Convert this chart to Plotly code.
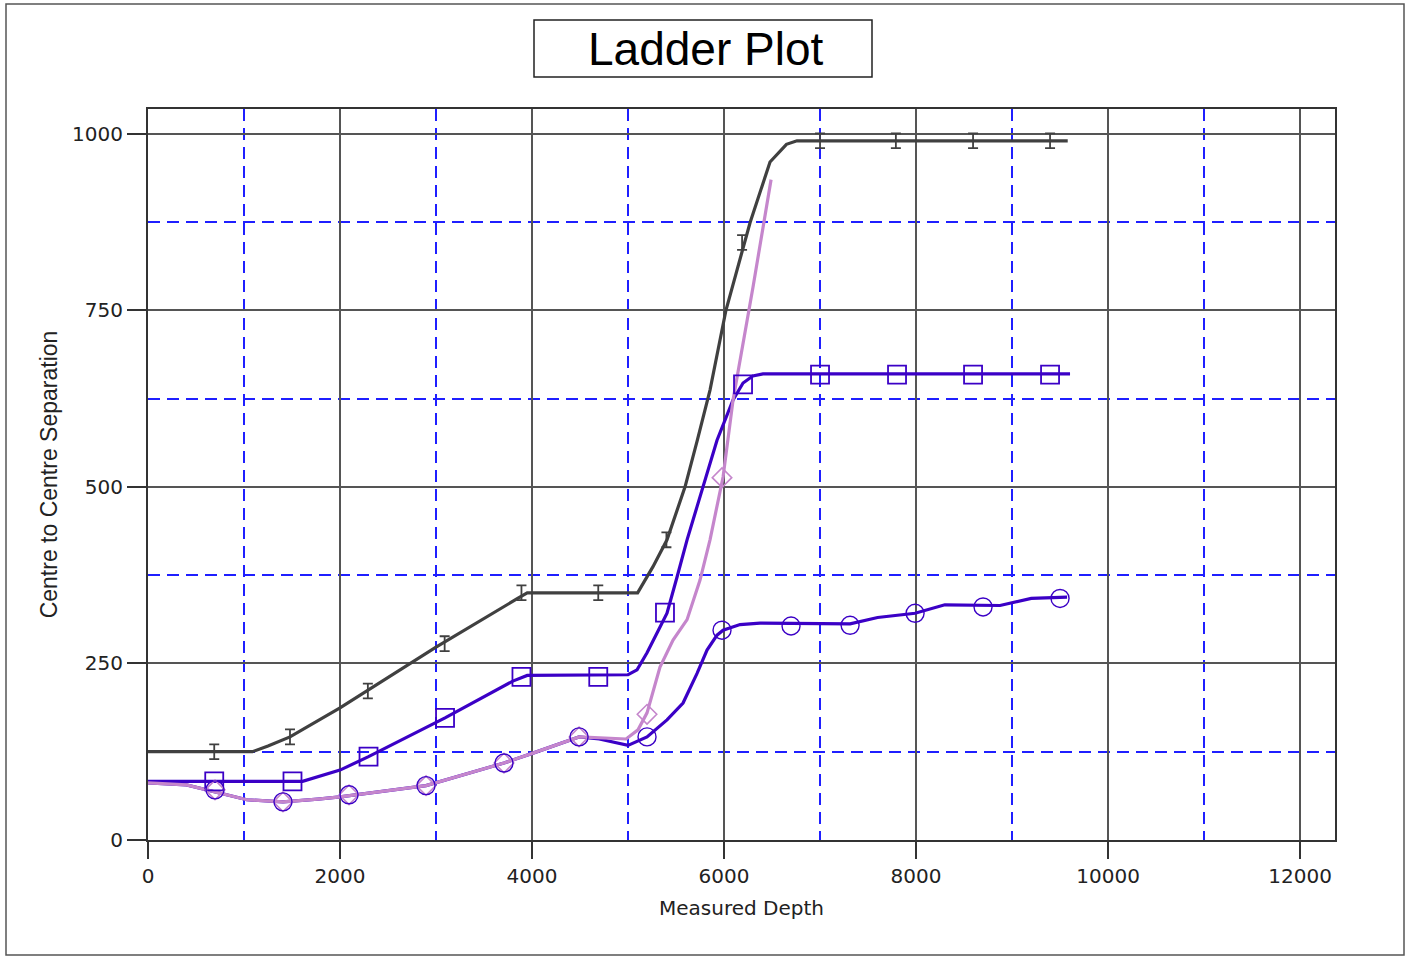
import plotly.graph_objects as go

# ---------------- data ----------------
# Grey series (I-beam markers)
grey_curve_x = [0, 1088, 1250, 1479, 2000, 3000, 3850, 3950, 5100, 5260, 5406, 5594, 5720, 5854, 6020, 6271, 6479, 6650, 6760, 9580]
grey_curve_y = [125, 125, 133, 146, 187, 273, 342, 350, 350, 387, 425, 500, 565, 637, 750, 874, 960, 985, 990, 990]
grey_mark_x = [690, 1479, 2290, 3090, 3890, 4690, 5400, 6188, 7000, 7790, 8594, 9396]
grey_mark_y = [125, 146, 211, 278, 350, 350, 425, 846, 990, 990, 990, 990]

# Blue series with square markers
sq_curve_x = [0, 1610, 2000, 2297, 3094, 3800, 3950, 5000, 5094, 5198, 5302, 5406, 5510, 5615, 5719, 5823, 5927, 6094, 6198, 6300, 6406, 9604]
sq_curve_y = [83, 83, 99, 118, 173, 225, 233, 234, 241, 265, 293, 321, 372, 425, 472, 519, 566, 623, 647, 657, 660, 660]
sq_mark_x = [690, 1505, 2297, 3094, 3890, 4690, 5385, 6198, 7000, 7802, 8594, 9396]
sq_mark_y = [83, 83, 118, 173, 231, 231, 322, 645, 659, 659, 659, 659]

# Blue series with circle markers
ci_curve_x = [0, 400, 1030, 1406, 1770, 2000, 2896, 3708, 4010, 4490, 4700, 4917, 5000, 5198, 5406, 5573, 5719, 5823, 5927, 5990, 6167, 6375, 7313, 7600, 7990, 8300, 8875, 9200, 9573]
ci_curve_y = [81, 78, 57, 54, 58, 61, 77, 109, 123, 146, 143, 137, 134, 146, 170, 194, 236, 269, 290, 297, 305, 307, 306, 315, 321, 333, 332, 342, 344]
ci_mark_x = [698, 1406, 2094, 2896, 3708, 4490, 5198, 5979, 6698, 7313, 7990, 8698, 9500]
ci_mark_y = [71, 54, 64, 77, 109, 146, 146, 297, 303, 304, 321, 330, 342]

# Lavender series with diamond markers
lv_curve_x = [0, 400, 1030, 1406, 1770, 2000, 2896, 3708, 4010, 4490, 4980, 5104, 5198, 5333, 5469, 5615, 5750, 5854, 5990, 6094, 6302, 6490]
lv_curve_y = [81, 78, 57, 54, 58, 61, 77, 109, 123, 146, 143, 156, 180, 245, 283, 312, 368, 425, 514, 623, 783, 935]
lv_mark_x = [698, 1406, 2094, 2896, 3708, 4490, 5198, 5979]
lv_mark_y = [71, 54, 64, 77, 109, 146, 178, 513]

x_ticks = [0, 2000, 4000, 6000, 8000, 10000, 12000]
y_ticks = [0, 250, 500, 750, 1000]

GREY = "#404040"
BLUE = "#3B00C6"
LAV = "#C586CC"

fig = go.Figure()

fig.add_trace(go.Scatter(x=grey_curve_x, y=grey_curve_y, mode="lines",
                         line=dict(color=GREY, width=3.2), hoverinfo="skip"))
fig.add_trace(go.Scatter(x=sq_curve_x, y=sq_curve_y, mode="lines",
                         line=dict(color=BLUE, width=3.2), hoverinfo="skip"))
fig.add_trace(go.Scatter(x=ci_curve_x, y=ci_curve_y, mode="lines",
                         line=dict(color=BLUE, width=3.2), hoverinfo="skip"))
fig.add_trace(go.Scatter(x=lv_curve_x, y=lv_curve_y, mode="lines",
                         line=dict(color=LAV, width=3.2), hoverinfo="skip"))

fig.add_trace(go.Scatter(x=grey_mark_x, y=grey_mark_y, mode="markers",
                         marker=dict(size=1, color=GREY, opacity=0),
                         error_y=dict(type="constant", value=10.5, width=5,
                                      thickness=1.8, color=GREY)))
fig.add_trace(go.Scatter(x=sq_mark_x, y=sq_mark_y, mode="markers",
                         marker=dict(symbol="square-open", size=18, color=BLUE,
                                     line=dict(width=1.8, color=BLUE))))
fig.add_trace(go.Scatter(x=lv_mark_x, y=lv_mark_y, mode="markers",
                         marker=dict(symbol="diamond-open", size=15, color=LAV,
                                     line=dict(width=1.6, color=LAV))))
fig.add_trace(go.Scatter(x=ci_mark_x, y=ci_mark_y, mode="markers",
                         marker=dict(symbol="circle-open", size=18, color=BLUE,
                                     line=dict(width=1.4, color=BLUE))))

tickfont = dict(family="DejaVu Sans", size=20, color="#222222")

fig.update_layout(
    width=1405, height=959,
    margin=dict(l=148, r=70, t=109, b=119),
    paper_bgcolor="white", plot_bgcolor="white",
    showlegend=False,
    xaxis=dict(
        range=[0, 12364], tickvals=x_ticks, ticktext=[str(v) for v in x_ticks],
        showgrid=True, gridcolor="#555555", gridwidth=2,
        minor=dict(dtick=1000, tick0=0, showgrid=True, gridcolor="#1f1fff",
                   gridwidth=2, griddash="12px,7px", ticks=""),
        ticks="outside", ticklen=17, tickwidth=2, tickcolor="#333333",
        showline=True, linecolor="#333333", linewidth=2, mirror=True,
        zeroline=False, tickfont=tickfont,
        title=dict(text="Measured Depth", font=dict(family="DejaVu Sans", size=20, color="#222222"),
                   standoff=14),
    ),
    yaxis=dict(
        range=[0, 1035], tickvals=y_ticks, ticktext=[str(v) for v in y_ticks],
        showgrid=True, gridcolor="#555555", gridwidth=2,
        minor=dict(dtick=125, tick0=0, showgrid=True, gridcolor="#1f1fff",
                   gridwidth=2, griddash="12px,7px", ticks=""),
        ticks="outside", ticklen=19, tickwidth=2, tickcolor="#333333",
        showline=True, linecolor="#333333", linewidth=2, mirror=True,
        zeroline=False, tickfont=tickfont,
        title=dict(text="Centre to Centre Separation",
                   font=dict(family="Liberation Sans Narrow, Arial Narrow, Liberation Sans", size=23, color="#222222"),
                   standoff=8),
    ),
    shapes=[
        dict(type="rect", xref="paper", yref="paper",
             x0=(6 - 148) / 1187, x1=(1404 - 148) / 1187,
             y0=(840 - 955) / 731, y1=(840 - 4) / 731,
             line=dict(color="#555555", width=1.5), layer="below"),
        dict(type="rect", xref="paper", yref="paper",
             x0=(534 - 148) / 1187, x1=(872 - 148) / 1187,
             y0=(840 - 77) / 731, y1=(840 - 20) / 731,
             line=dict(color="#222222", width=1.5)),
    ],
    annotations=[
        dict(text="Ladder Plot", xref="paper", yref="paper",
             x=(705 - 148) / 1187, y=(840 - 49) / 731, xanchor="center", yanchor="middle",
             showarrow=False, font=dict(family="Liberation Sans, Arial", size=46, color="#000000")),
    ],
)

fig.write_html("out.html")
